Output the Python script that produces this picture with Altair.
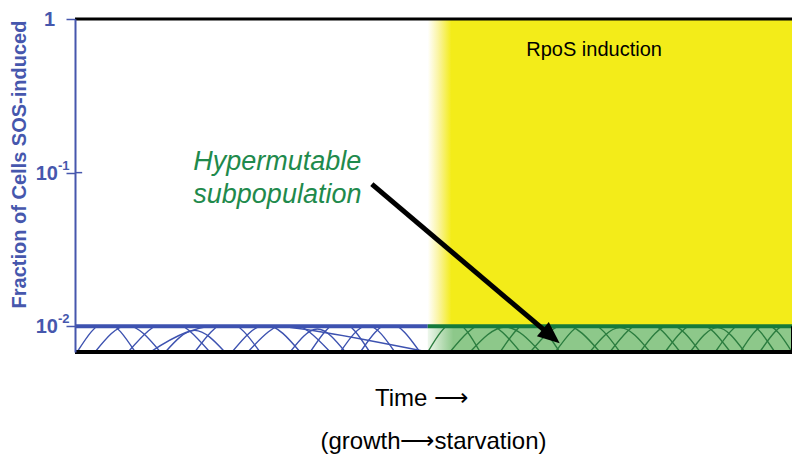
import altair as alt
import pandas as pd

# ---------------- data ----------------
x_domain = [0, 100]            # time, arbitrary units (growth -> starvation)
y_domain = [0.0068, 1.0]       # fraction of cells SOS-induced (log scale)
sos_level = 0.01               # steady SOS-induced subpopulation
rpos_start = 49.2              # onset of starvation / RpoS induction

tick_values = [0.01, 0.1, 1]
tick_base = ["10", "10", "1"]
tick_exp = ["-2", "-1", ""]

# blue arcs (growth phase): left foot, peak x, right foot, peak height
blue_arc_start = [0.3, 2.8, 7.4, 12.6, 16.7, 21.9, 24.1, 30.0, 32.8, 37.0, 39.8, 10.5]
blue_arc_peak_x = [4.3, 7.3, 13.1, 16.7, 21.3, 26.6, 29.8, 33.8, 37.0, 40.8, 43.9, 23.0]
blue_arc_end = [8.4, 11.9, 18.8, 20.9, 25.8, 31.4, 35.6, 37.7, 41.1, 44.6, 48.1, 49.2]
blue_arc_peak_y = [0.0106, 0.0101, 0.0108, 0.0094, 0.0106, 0.0102, 0.0105, 0.0096, 0.0107, 0.0101, 0.0104, 0.0104]

# green arcs (starvation phase)
green_arc_start = [49.2, 52.3, 55.1, 59.3, 63.5, 67.0, 71.8, 74.6, 78.8, 82.3, 85.8, 89.3, 92.8, 95.5]
green_arc_peak_x = [52.9, 57.2, 60.0, 63.5, 68.3, 71.5, 76.0, 79.5, 83.0, 86.8, 89.6, 93.5, 96.4, 99.7]
green_arc_end = [56.5, 62.1, 64.9, 67.6, 73.2, 76.0, 80.2, 84.4, 87.2, 91.4, 93.4, 97.6, 100.0, 103.9]
green_arc_peak_y = [0.0106, 0.0104, 0.0099, 0.0107, 0.0102, 0.0106, 0.0098, 0.0107, 0.0102, 0.0105, 0.0098, 0.0106, 0.0102, 0.0105]

# annotation arrow: start point, end of shaft, tip
arrow_x = [41.4, 65.9, 67.6]
arrow_y = [0.0841, 0.00905, 0.00775]

rpos_label = ["RpoS induction"]
rpos_label_x = [72.4]
rpos_label_y = [0.63]

hyper_lines = ["Hypermutable", "subpopulation"]
hyper_x = [16.5, 16.5]
hyper_y = [0.117, 0.0715]

# ---------------- styling ----------------
FONT = "Liberation Sans"
BLUE = "#4657ad"
BLUE_LINE = "#3d52b0"
GREEN_TEXT = "#1f8a4c"
GREEN_LINE = "#157a3c"
GREEN_ARC = "#2b7d3f"
GREEN_FILL = "#8dc88a"
YELLOW = "#f3ec19"

xscale = alt.Scale(domain=x_domain, nice=False, zero=False)
yscale = alt.Scale(type="log", domain=y_domain, nice=False)

y_axis = alt.Axis(
    values=tick_values,
    labels=False,
    title="Fraction of Cells SOS-induced",
    titleColor=BLUE, titleFont=FONT, titleFontSize=20, titleFontWeight="bold",
    titleAngle=270, titleX=-56, titleY=145, titleAlign="center", titleBaseline="middle",
    domainColor=BLUE, domainWidth=2, tickColor=BLUE, tickWidth=1.5, tickSize=9,
    grid=False, zindex=1,
)

x_axis = alt.Axis(
    title="Time ⟶", titleFont=FONT, titleFontSize=24, titleFontWeight="normal",
    titleColor="black", titlePadding=34, titleX=346, titleAlign="center",
    domain=False, ticks=False, labels=False, grid=False,
)


def X(f):
    return alt.X(f, type="quantitative", scale=xscale)


def Y(f):
    return alt.Y(f, type="quantitative", scale=yscale)


def grad(stops):
    return {"gradient": "linear", "x1": 0, "x2": 1, "y1": 0, "y2": 0,
            "stops": [{"offset": o, "color": c} for o, c in stops]}


# green band (starvation, below SOS level) - carries the axes
band_df = pd.DataFrame({"x": [rpos_start], "x2": [x_domain[1]], "y": [y_domain[0]], "y2": [sos_level]})
band = alt.Chart(band_df).mark_rect(
    fill=grad([(0, "#eef7ec"), (0.07, GREEN_FILL), (1, GREEN_FILL)])
).encode(
    x=alt.X("x:Q", scale=xscale, axis=x_axis), x2="x2",
    y=alt.Y("y:Q", scale=yscale, axis=y_axis), y2="y2",
)

# arcs
rows = []
for i, (a, m, b, h) in enumerate(zip(blue_arc_start, blue_arc_peak_x, blue_arc_end, blue_arc_peak_y)):
    for xx, yy in [(a, y_domain[0]), (m, h), (b, y_domain[0])]:
        rows.append({"arc": f"b{i}", "grp": "growth", "x": xx, "y": yy})
for i, (a, m, b, h) in enumerate(zip(green_arc_start, green_arc_peak_x, green_arc_end, green_arc_peak_y)):
    for xx, yy in [(a, y_domain[0]), (m, h), (b, y_domain[0])]:
        rows.append({"arc": f"g{i}", "grp": "starvation", "x": xx, "y": yy})
arcs_df = pd.DataFrame(rows)
arcs = alt.Chart(arcs_df).mark_line(interpolate="natural", strokeWidth=1.4, clip=True).encode(
    x=X("x"), y=Y("y"),
    detail="arc:N",
    color=alt.Color("grp:N", scale=alt.Scale(domain=["growth", "starvation"], range=[BLUE_LINE, GREEN_ARC]), legend=None),
)

# cover rects above SOS level
white_df = pd.DataFrame({"x": [x_domain[0]], "x2": [rpos_start], "y": [sos_level], "y2": [y_domain[1]]})
white = alt.Chart(white_df).mark_rect(fill="white").encode(x=X("x"), x2="x2", y=Y("y"), y2="y2")
yellow_df = pd.DataFrame({"x": [rpos_start], "x2": [x_domain[1]], "y": [sos_level], "y2": [y_domain[1]]})
yellow = alt.Chart(yellow_df).mark_rect(
    fill=grad([(0, "#ffffff"), (0.03, "#faf4a0"), (0.065, YELLOW), (1, YELLOW)])
).encode(x=X("x"), x2="x2", y=Y("y"), y2="y2")


def hrule(x0, x1, y, color, width):
    df = pd.DataFrame({"x": [x0], "x2": [x1], "y": [y]})
    return alt.Chart(df).mark_rule(color=color, strokeWidth=width).encode(x=X("x"), x2="x2", y=Y("y"))


blue_line = hrule(x_domain[0], rpos_start, sos_level, BLUE_LINE, 4)
green_line = hrule(rpos_start, x_domain[1], sos_level, GREEN_LINE, 4)
top_line = hrule(x_domain[0], x_domain[1], y_domain[1], "black", 3)
bottom_line = hrule(x_domain[0], x_domain[1], y_domain[0], "black", 4)
tick_right = hrule(x_domain[0], 1.0, 0.1, BLUE, 1.5)

right_df = pd.DataFrame({"x": [x_domain[1]], "y": [y_domain[0]], "y2": [sos_level]})
right_edge = alt.Chart(right_df).mark_rule(color="black", strokeWidth=2).encode(x=X("x"), y=Y("y"), y2="y2")

# y tick labels (base and superscript exponent), drawn at the tick positions
lab_df = pd.DataFrame({"x": [x_domain[0]] * 3, "y": tick_values, "b": tick_base, "e": tick_exp})
pow_df = lab_df[lab_df["e"] != ""]
one_df = lab_df[lab_df["e"] == ""]
lab_base = alt.Chart(pow_df).mark_text(
    font=FONT, fontSize=20, fontWeight="bold", color=BLUE, align="right", baseline="middle", dx=-17, dy=1
).encode(x=X("x"), y=Y("y"), text="b:N")
lab_exp = alt.Chart(pow_df).mark_text(
    font=FONT, fontSize=13, fontWeight="bold", color=BLUE, align="left", baseline="middle", dx=-17, dy=-7
).encode(x=X("x"), y=Y("y"), text="e:N")
lab_one = alt.Chart(one_df).mark_text(
    font=FONT, fontSize=20, fontWeight="bold", color=BLUE, align="right", baseline="middle", dx=-20, dy=1
).encode(x=X("x"), y=Y("y"), text="b:N")

# arrow
shaft_df = pd.DataFrame({"x": [arrow_x[0]], "x2": [arrow_x[1]], "y": [arrow_y[0]], "y2": [arrow_y[1]]})
shaft = alt.Chart(shaft_df).mark_rule(color="black", strokeWidth=5).encode(x=X("x"), x2="x2", y=Y("y"), y2="y2")
head_df = pd.DataFrame({"x": [arrow_x[2]], "y": [arrow_y[2]]})
head = alt.Chart(head_df).mark_point(
    shape="M0,0 L0.42,1 L-0.42,1 Z", size=1936, angle=130,
    filled=True, color="black", opacity=1, strokeWidth=0,
).encode(x=X("x"), y=Y("y"))

# labels
rpos_df = pd.DataFrame({"x": rpos_label_x, "y": rpos_label_y, "t": rpos_label})
rpos_text = alt.Chart(rpos_df).mark_text(
    font=FONT, fontSize=20, color="black", align="center", baseline="middle"
).encode(x=X("x"), y=Y("y"), text="t:N")
hyper_df = pd.DataFrame({"x": hyper_x, "y": hyper_y, "t": hyper_lines})
hyper_text = alt.Chart(hyper_df).mark_text(
    font=FONT, fontSize=27, fontStyle="italic", color=GREEN_TEXT, align="left", baseline="middle"
).encode(x=X("x"), y=Y("y"), text="t:N")

chart = alt.layer(
    band, arcs, white, yellow, blue_line, green_line, top_line, bottom_line,
    right_edge, tick_right, lab_base, lab_exp, lab_one, shaft, head, rpos_text, hyper_text,
).properties(
    width=717, height=333,
    autosize=alt.AutoSizeParams(type="none"),
    padding={"left": 67, "top": 11, "right": 0, "bottom": 108},
    title=alt.TitleParams(
        "(growth⟶starvation)", orient="bottom", anchor="middle",
        font=FONT, fontSize=24, fontWeight="normal", color="black", offset=20,
    ),
).configure_view(stroke=None).configure_axis(grid=False).configure(background="white", font=FONT)

chart.save("out.html", embed_options={"renderer": "svg", "actions": False})
